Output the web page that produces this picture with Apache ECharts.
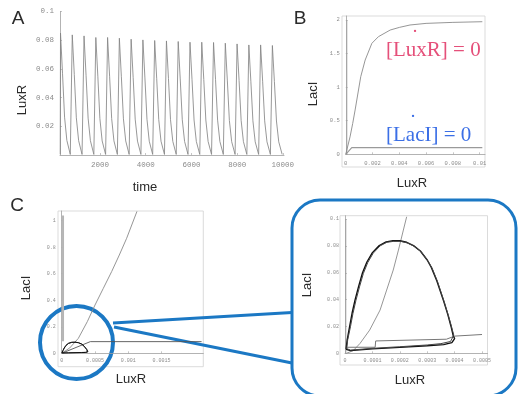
<!DOCTYPE html>
<html>
<head>
<meta charset="utf-8">
<script src="https://cdn.jsdelivr.net/npm/echarts@6/dist/echarts.min.js"></script>
<style>
  html, body { margin: 0; padding: 0; background: #fff; }
  #chart { width: 518px; height: 394px; }
</style>
</head>
<body>
<div id="chart"></div>
<script>
// ---- Panel A: LuxR vs time, one row per oscillation: rise, peak, decay ----
const luxrCycles = [
  [[260, 0.0005], [272, 0.0850], [360, 0.0570], [450, 0.0264], [550, 0.0102], [700, 0.0004]],
  [[775, 0.0005], [787, 0.0837], [875, 0.0561], [965, 0.0259], [1065, 0.0100], [1215, 0.0004]],
  [[1290, 0.0005], [1302, 0.0830], [1390, 0.0556], [1480, 0.0257], [1580, 0.0100], [1730, 0.0004]],
  [[1805, 0.0005], [1817, 0.0819], [1905, 0.0549], [1995, 0.0254], [2095, 0.0098], [2245, 0.0004]],
  [[2320, 0.0005], [2332, 0.0819], [2420, 0.0549], [2510, 0.0254], [2610, 0.0098], [2760, 0.0004]],
  [[2835, 0.0005], [2847, 0.0814], [2935, 0.0545], [3025, 0.0252], [3125, 0.0098], [3275, 0.0004]],
  [[3350, 0.0005], [3362, 0.0807], [3450, 0.0541], [3540, 0.0250], [3640, 0.0097], [3790, 0.0004]],
  [[3865, 0.0005], [3877, 0.0802], [3965, 0.0537], [4055, 0.0249], [4155, 0.0096], [4305, 0.0004]],
  [[4380, 0.0005], [4392, 0.0798], [4480, 0.0535], [4570, 0.0247], [4670, 0.0096], [4820, 0.0004]],
  [[4895, 0.0005], [4907, 0.0795], [4995, 0.0533], [5085, 0.0246], [5185, 0.0095], [5335, 0.0004]],
  [[5410, 0.0005], [5422, 0.0791], [5510, 0.0530], [5600, 0.0245], [5700, 0.0095], [5850, 0.0004]],
  [[5925, 0.0005], [5937, 0.0786], [6025, 0.0527], [6115, 0.0244], [6215, 0.0094], [6365, 0.0004]],
  [[6440, 0.0005], [6452, 0.0786], [6540, 0.0527], [6630, 0.0244], [6730, 0.0094], [6880, 0.0004]],
  [[6955, 0.0005], [6967, 0.0784], [7055, 0.0525], [7145, 0.0243], [7245, 0.0094], [7395, 0.0004]],
  [[7470, 0.0005], [7482, 0.0779], [7570, 0.0522], [7660, 0.0241], [7760, 0.0093], [7910, 0.0004]],
  [[7985, 0.0005], [7997, 0.0774], [8085, 0.0519], [8175, 0.0240], [8275, 0.0093], [8425, 0.0004]],
  [[8500, 0.0005], [8512, 0.0767], [8600, 0.0514], [8690, 0.0238], [8790, 0.0092], [8940, 0.0004]],
  [[9015, 0.0005], [9027, 0.0767], [9115, 0.0514], [9205, 0.0238], [9305, 0.0092], [9455, 0.0004]],
  [[9530, 0.0005], [9542, 0.0763], [9630, 0.0511], [9720, 0.0237], [9820, 0.0092], [9970, 0.0004]]
];
const ticksA_x = [2000, 4000, 6000, 8000, 10000];
const ticksA_y = [0.02, 0.04, 0.06, 0.08, 0.1];

// ---- Panel B: nullclines in the LuxR / LacI plane ----
const luxrNullB = [[0, 0], [0.00032, 0.26], [0.00052, 0.46], [0.0007, 0.66], [0.00112, 1.156],
  [0.00145, 1.404], [0.00195, 1.653], [0.00244, 1.752], [0.00332, 1.851], [0.004, 1.89],
  [0.0048, 1.926], [0.006, 1.95], [0.008, 1.965], [0.0102, 1.975]];
const luxrAxisB = [[0.00008, 0], [0.00008, 2]];
const laciNullB = [[0, 0], [0.00045, 0.1], [0.0102, 0.1]];
const ticksB_x = [0, 0.002, 0.004, 0.006, 0.008, 0.01];
const ticksB_y = [0, 0.5, 1, 1.5, 2];

// ---- Panel C: nullclines + limit cycle, full view and zoom ----
const limitLap1 = [[0.000004, 0.003], [0.000008, 0.01], [0.000017, 0.02], [0.000026, 0.03],
  [0.000037, 0.04], [0.00005, 0.05], [0.000064, 0.06], [0.00008, 0.068], [0.0001, 0.075],
  [0.000125, 0.0803], [0.00015, 0.083], [0.000175, 0.0838], [0.0002, 0.0838], [0.000225, 0.0827],
  [0.00025, 0.0802], [0.000275, 0.0762], [0.0003, 0.0695], [0.000315, 0.064], [0.000335, 0.054],
  [0.00036, 0.039], [0.000375, 0.029], [0.000387, 0.02], [0.000395, 0.013], [0.0004, 0.011],
  [0.00039, 0.008], [0.00036, 0.0065], [0.0003, 0.0056], [0.0002, 0.0044], [0.0001, 0.0033],
  [0.00002, 0.002], [0.000004, 0.003]];
const limitLap2 = [[0.000006, 0.0035], [0.00001, 0.0102], [0.00002, 0.0198], [0.000029, 0.0296],
  [0.00004, 0.0395], [0.000053, 0.0495], [0.000067, 0.0595], [0.000083, 0.0676], [0.000103, 0.0746],
  [0.000128, 0.08], [0.000153, 0.0827], [0.000178, 0.0834], [0.000203, 0.0834], [0.000228, 0.0822],
  [0.000253, 0.0797], [0.000278, 0.0756], [0.000302, 0.069], [0.000318, 0.0633], [0.000338, 0.0532],
  [0.000362, 0.0383], [0.000377, 0.0284], [0.000389, 0.0196], [0.000397, 0.0135], [0.000402, 0.0122],
  [0.000385, 0.0088], [0.00035, 0.0072], [0.0003, 0.0062], [0.0002, 0.0049], [0.0001, 0.0037],
  [0.00002, 0.0024], [0.000006, 0.0035]];

const luxrNullC = [[0, 0], [0.00012, 0.04], [0.00025, 0.113], [0.000385, 0.239], [0.0005, 0.364],
  [0.000625, 0.49], [0.00075, 0.616], [0.000865, 0.741], [0.000975, 0.867], [0.00113, 1.07]];
const luxrAxisC = [[0.00002, 0.09], [0.00002, 1.04]];
const laciNullC = [[0.00001, 0.002], [0.00043, 0.088], [0.0021, 0.088]];
const ticksC_x = [0, 0.0005, 0.001, 0.0015];
const ticksC_y = [0, 0.2, 0.4, 0.6, 0.8, 1];

const luxrNullZ = [[0.000005, 0], [0.00003, 0.002], [0.000055, 0.0074], [0.00009, 0.0173],
  [0.000128, 0.0322], [0.000152, 0.0471], [0.000176, 0.062], [0.000195, 0.0769],
  [0.000213, 0.0918], [0.000225, 0.1017]];
const luxrAxisZ = [[0.000003, 0], [0.000003, 0.1]];
const laciNullZ = [[0.000003, 0.0045], [0.00011, 0.0045], [0.000112, 0.0092], [0.00037, 0.0105],
  [0.0004, 0.0128], [0.0005, 0.014]];
const ticksZ_x = [0, 0.0001, 0.0002, 0.0003, 0.0004, 0.0005];
const ticksZ_y = [0, 0.02, 0.04, 0.06, 0.08, 0.1];

const BLUE = '#1b78c4';
const AXIS_GRAY = '#a0a0a0';
const LABEL_GRAY = '#8c8c8c';
const FRAME_GRAY = '#d2d2d2';
const TICK_FONT = 'Liberation Mono';

const chart = echarts.init(document.getElementById('chart'), null, { renderer: 'canvas' });

function valueAxis(gridIndex, min, max, ticks, fontSize, margin) {
  return {
    type: 'value', gridIndex, min, max,
    splitLine: { show: false },
    axisLine: { onZero: false, lineStyle: { color: AXIS_GRAY, width: 0.8 } },
    axisTick: { inside: true, length: 2, customValues: ticks, lineStyle: { color: AXIS_GRAY, width: 0.6 } },
    axisLabel: {
      customValues: ticks, color: LABEL_GRAY, fontFamily: TICK_FONT,
      fontSize, margin, formatter: v => String(v)
    }
  };
}

function curve(data, gi, color, width) {
  return {
    type: 'line', data, xAxisIndex: gi, yAxisIndex: gi,
    symbol: 'none', silent: true, clip: true,
    lineStyle: { color, width }
  };
}

function label(text, x, y, size, opts) {
  return Object.assign({
    type: 'text', x, y,
    style: {
      text, fill: '#2a2a2a', font: size + 'px "Liberation Sans", Arial, sans-serif',
      align: 'center', verticalAlign: 'middle', textAlign: 'center', textVerticalAlign: 'middle'
    }
  }, opts || {});
}

function frameRect(x, y, width, height) {
  return {
    type: 'rect', z: -1, silent: true, shape: { x, y, width, height },
    style: { fill: 'none', stroke: FRAME_GRAY, lineWidth: 0.8 }
  };
}

const option = {
  animation: false,
  grid: [
    { left: 60, top: 11.5, width: 224, height: 143.5 },
    { left: 345.75, top: 16, width: 139.25, height: 138.3 },
    { left: 61.7, top: 211, width: 141.6, height: 142.3 },
    { left: 345, top: 215.7, width: 142.5, height: 137.6 }
  ],
  xAxis: [
    valueAxis(0, 250, 10050, ticksA_x, 7.5, 6),
    valueAxis(1, 0, 0.0104, ticksB_x, 5.5, 6),
    valueAxis(2, 0, 0.002126, ticksC_x, 5, 5),
    valueAxis(3, 0, 0.00052, ticksZ_x, 5, 5)
  ],
  yAxis: [
    valueAxis(0, 0, 0.1, ticksA_y, 7.5, 6),
    valueAxis(1, 0, 2.06, ticksB_y, 5.5, 6),
    valueAxis(2, 0, 1.073, ticksC_y, 5, 6),
    valueAxis(3, 0, 0.1025, ticksZ_y, 5, 6)
  ],
  series: [
    curve(luxrCycles.flat(), 0, '#858585', 0.85),

    curve(luxrAxisB, 1, '#9a9a9a', 0.8),
    curve(laciNullB, 1, '#9a9a9a', 1.2),
    curve(luxrNullB, 1, '#8a8a8a', 0.9),

    curve(luxrAxisC, 2, '#b5b5b5', 2),
    curve(luxrNullC, 2, '#8a8a8a', 0.9),
    curve(laciNullC, 2, '#555', 0.9),
    curve(limitLap1, 2, '#111', 1),
    curve(limitLap2, 2, '#111', 0.8),

    curve(luxrAxisZ, 3, '#9a9a9a', 0.8),
    curve(luxrNullZ, 3, '#8a8a8a', 0.9),
    curve(laciNullZ, 3, '#777', 1),
    curve(limitLap1, 3, '#111', 1.4),
    curve(limitLap2, 3, '#444', 1)
  ],
  graphic: [
    // plot frames
    frameRect(342, 16, 143, 151),
    frameRect(58, 211, 145.3, 155.7),
    frameRect(340, 215.7, 147.5, 149.3),
    // panel letters
    label('A', 18, 19, 19),
    label('B', 300, 19, 19),
    label('C', 17, 206, 19),
    // axis titles
    label('LuxR', 22, 100, 13, { rotation: Math.PI / 2 }),
    label('time', 145, 187, 13),
    label('LacI', 313, 94, 13, { rotation: Math.PI / 2 }),
    label('LuxR', 412, 183, 13),
    label('LacI', 26, 288, 13, { rotation: Math.PI / 2 }),
    label('LuxR', 131, 379, 13),
    label('LacI', 307, 285, 13, { rotation: Math.PI / 2 }),
    label('LuxR', 410, 380, 13),
    // nullcline labels
    {
      type: 'text', x: 386, y: 50,
      style: { text: '[LuxR] = 0', fill: '#e5507a', font: '21px "Liberation Serif", serif',
        align: 'left', verticalAlign: 'middle', textAlign: 'left', textVerticalAlign: 'middle' }
    },
    {
      type: 'text', x: 415, y: 38,
      style: { text: '˙', fill: '#e5507a', font: '21px "Liberation Serif", serif',
        align: 'center', verticalAlign: 'middle', textAlign: 'center', textVerticalAlign: 'middle' }
    },
    {
      type: 'text', x: 386, y: 135,
      style: { text: '[LacI] = 0', fill: '#3b6fe6', font: '21px "Liberation Serif", serif',
        align: 'left', verticalAlign: 'middle', textAlign: 'left', textVerticalAlign: 'middle' }
    },
    {
      type: 'text', x: 413, y: 123,
      style: { text: '˙', fill: '#3b6fe6', font: '21px "Liberation Serif", serif',
        align: 'center', verticalAlign: 'middle', textAlign: 'center', textVerticalAlign: 'middle' }
    },
    // magnifier callout
    {
      type: 'rect', shape: { x: 292, y: 200, width: 224, height: 196, r: 28 },
      style: { fill: 'none', stroke: BLUE, lineWidth: 3 }
    },
    {
      type: 'line', shape: { x1: 113, y1: 323, x2: 292, y2: 312.5 },
      style: { stroke: BLUE, lineWidth: 3 }
    },
    {
      type: 'line', shape: { x1: 114, y1: 327, x2: 292, y2: 363 },
      style: { stroke: BLUE, lineWidth: 3 }
    },
    {
      type: 'circle', shape: { cx: 76.5, cy: 342.5, r: 36.5 },
      style: { fill: 'none', stroke: BLUE, lineWidth: 4 }
    }
  ]
};

chart.setOption(option);
</script>
</body>
</html>
